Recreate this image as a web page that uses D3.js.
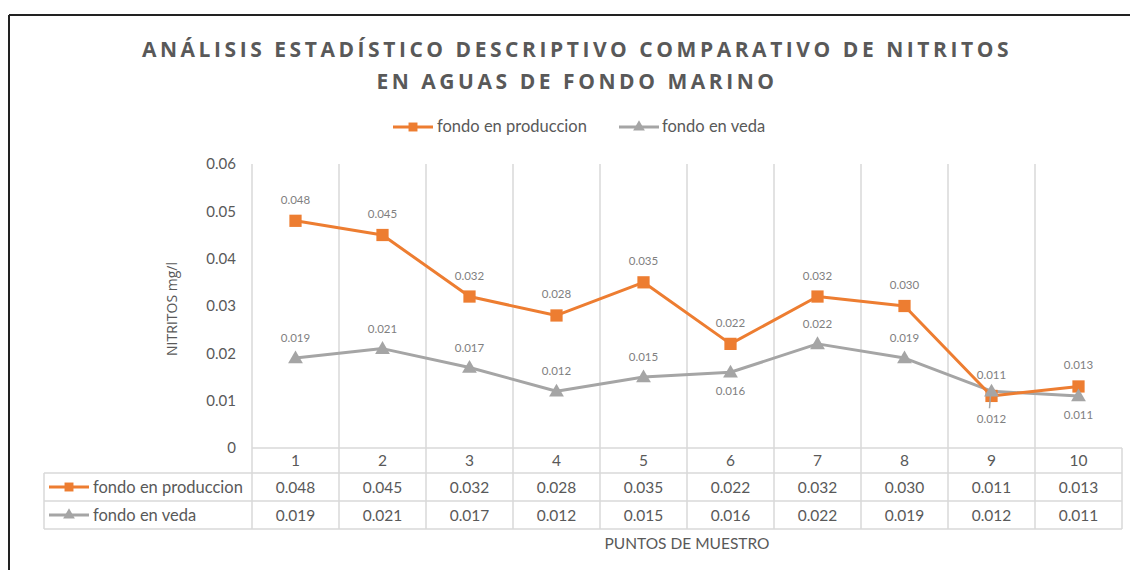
<!DOCTYPE html>
<html>
<head>
<meta charset="utf-8">
<script src="https://cdn.jsdelivr.net/npm/d3@7"></script>
<style>
  html, body { margin: 0; padding: 0; background: #fff; }
  svg { display: block; }
  text { font-family: Lato, "Open Sans", sans-serif; }
</style>
</head>
<body>
<svg id="chart" width="1130" height="570"></svg>
<script>
// Sampling points and nitrite readings (mg/l)
const categories = ["1", "2", "3", "4", "5", "6", "7", "8", "9", "10"];
const produccion = [0.048, 0.045, 0.032, 0.028, 0.035, 0.022, 0.032, 0.030, 0.011, 0.013];
const veda = [0.019, 0.021, 0.017, 0.012, 0.015, 0.016, 0.022, 0.019, 0.012, 0.011];
const yTicks = [0, 0.01, 0.02, 0.03, 0.04, 0.05, 0.06];
const seriesNames = ["fondo en produccion", "fondo en veda"];
// Label placement per point for the "veda" series: above or below the marker
const vedaLabelPos = ["t", "t", "t", "t", "t", "b", "t", "t", "b", "b"];

const titleLines = ["ANÁLISIS ESTADÍSTICO DESCRIPTIVO COMPARATIVO DE NITRITOS", "EN AGUAS DE FONDO MARINO"];
const yTitle = "NITRITOS mg/l";
const xTitle = "PUNTOS DE MUESTRO";

const C_ORANGE = "#ED7D31", C_GRAY = "#A5A5A5", C_TEXT = "#595959", C_GRID = "#D9D9D9";

const svg = d3.select("#chart");

// outer frame (top and left edges)
svg.append("line").attr("x1", 9).attr("x2", 1130).attr("y1", 15).attr("y2", 15)
  .attr("stroke", "#222").attr("stroke-width", 2);
svg.append("line").attr("x1", 9).attr("x2", 9).attr("y1", 15).attr("y2", 570)
  .attr("stroke", "#222").attr("stroke-width", 2);

// title
svg.append("g").selectAll("text").data(titleLines).join("text")
  .attr("x", 577).attr("y", (d, i) => 57 + i * 32)
  .attr("text-anchor", "middle")
  .attr("fill", C_TEXT)
  .style("font-family", "'Open Sans', sans-serif")
  .style("font-weight", 700)
  .style("font-size", "21px")
  .style("letter-spacing", "3.55px")
  .text(d => d);

// plot geometry
const plotLeft = 252, plotRight = 1122, plotTop = 164, plotBottom = 448;
const x = d3.scaleBand().domain(categories).range([plotLeft, plotRight]);
const y = d3.scaleLinear().domain([0, 0.06]).range([plotBottom, plotTop]);
const cx = c => x(c) + x.bandwidth() / 2;

// table rows
const rowCat = [448, 473], rowA = [473, 501], rowB = [501, 529];
const tableLeft = 44;

// vertical gridlines (plot + table columns)
const bounds = categories.map(c => x(c)).concat([plotRight]);
svg.append("g").selectAll("line").data(bounds).join("line")
  .attr("x1", d => d).attr("x2", d => d)
  .attr("y1", (d, i) => i === bounds.length - 1 ? rowCat[0] : plotTop)
  .attr("y2", rowB[1])
  .attr("stroke", C_GRID).attr("stroke-width", 1.5);

// horizontal table lines
const hl = svg.append("g").attr("stroke", C_GRID).attr("stroke-width", 1.5);
hl.append("line").attr("x1", plotLeft).attr("x2", plotRight).attr("y1", rowCat[0]).attr("y2", rowCat[0]);
[rowA[0], rowB[0], rowB[1]].forEach(yy =>
  hl.append("line").attr("x1", tableLeft).attr("x2", plotRight).attr("y1", yy).attr("y2", yy));
hl.append("line").attr("x1", tableLeft).attr("x2", tableLeft).attr("y1", rowA[0]).attr("y2", rowB[1]);

// y axis labels
const yAxis = d3.axisLeft(y).tickValues(yTicks).tickSize(0).tickPadding(0)
  .tickFormat(d => d === 0 ? "0" : d3.format(".2f")(d));
const yg = svg.append("g").attr("transform", `translate(236,0)`).call(yAxis);
yg.select(".domain").remove();
yg.selectAll("text").attr("fill", C_TEXT).style("font-size", "15px")
  .style("font-family", "Lato, sans-serif");

// y title
svg.append("text").attr("transform", `translate(177,${(plotTop + plotBottom) / 2 + 3}) rotate(-90)`)
  .attr("text-anchor", "middle").attr("fill", C_TEXT)
  .style("font-family", "'Open Sans', sans-serif").style("font-size", "14px").text(yTitle);

// category row
svg.append("g").selectAll("text").data(categories).join("text")
  .attr("x", d => cx(d)).attr("y", 466).attr("text-anchor", "middle")
  .attr("fill", C_TEXT).style("font-size", "15.5px").text(d => d);

// series rows in the data table
const fmt = d3.format(".3f");
[[produccion, rowA], [veda, rowB]].forEach(([vals, row]) => {
  svg.append("g").selectAll("text").data(vals).join("text")
    .attr("x", (d, i) => cx(categories[i])).attr("y", row[0] + 20)
    .attr("text-anchor", "middle").attr("fill", C_TEXT).style("font-size", "15.5px")
    .text(d => fmt(d));
});

// marker symbols
const sq = d3.symbol().type(d3.symbolSquare).size(150);
const tri = d3.symbol().type(d3.symbolTriangle).size(95);

function legendKey(g, x0, yy, color, sym) {
  g.append("line").attr("x1", x0).attr("x2", x0 + 40).attr("y1", yy).attr("y2", yy)
    .attr("stroke", color).attr("stroke-width", 3);
  g.append("path").attr("d", sym).attr("fill", color)
    .attr("transform", `translate(${x0 + 20},${yy})`);
}
const smallSq = d3.symbol().type(d3.symbolSquare).size(80)();
const smallTri = d3.symbol().type(d3.symbolTriangle).size(60)();

// table row keys
const tk = svg.append("g");
legendKey(tk, 49, (rowA[0] + rowA[1]) / 2, C_ORANGE, smallSq);
legendKey(tk, 49, (rowB[0] + rowB[1]) / 2, C_GRAY, smallTri);
tk.append("text").attr("x", 93).attr("y", rowA[0] + 20).attr("fill", C_TEXT).style("font-size", "16.5px").text(seriesNames[0]);
tk.append("text").attr("x", 93).attr("y", rowB[0] + 20).attr("fill", C_TEXT).style("font-size", "16.5px").text(seriesNames[1]);

// top legend
const lg = svg.append("g");
legendKey(lg, 393, 127, C_ORANGE, smallSq);
lg.append("text").attr("x", 437).attr("y", 132).attr("fill", C_TEXT).style("font-size", "16.5px").text(seriesNames[0]);
legendKey(lg, 619, 127, C_GRAY, smallTri);
lg.append("text").attr("x", 662).attr("y", 132).attr("fill", C_TEXT).style("font-size", "16.5px").text(seriesNames[1]);

// lines
const line = d3.line().x((d, i) => cx(categories[i])).y(d => y(d));
svg.append("path").datum(veda).attr("d", line).attr("fill", "none")
  .attr("stroke", C_GRAY).attr("stroke-width", 3).attr("stroke-linejoin", "round");
svg.append("path").datum(produccion).attr("d", line).attr("fill", "none")
  .attr("stroke", C_ORANGE).attr("stroke-width", 3).attr("stroke-linejoin", "round");

// markers
svg.append("g").selectAll("path").data(produccion).join("path")
  .attr("d", sq()).attr("fill", C_ORANGE)
  .attr("transform", (d, i) => `translate(${cx(categories[i])},${y(d)})`);
svg.append("g").selectAll("path").data(veda).join("path")
  .attr("d", tri()).attr("fill", C_GRAY)
  .attr("transform", (d, i) => `translate(${cx(categories[i])},${y(d) + 1})`);

// leader line for the label pushed below at point 9
const i9 = 8;
svg.append("line").attr("x1", cx(categories[i9]) - 1).attr("x2", cx(categories[i9]) - 2)
  .attr("y1", y(veda[i9]) + 4).attr("y2", y(veda[i9]) + 17)
  .attr("stroke", C_GRAY).attr("stroke-width", 1.5);

// data labels
const lbl = svg.append("g").attr("fill", "#7F7F7F").style("font-size", "11.5px").attr("text-anchor", "middle");
produccion.forEach((v, i) => {
  lbl.append("text").attr("x", cx(categories[i])).attr("y", y(v) - 17).text(fmt(v));
});
veda.forEach((v, i) => {
  const below = vedaLabelPos[i] === "b";
  const dy = below ? (i === i9 ? 32 : 23) : -16;
  lbl.append("text").attr("x", cx(categories[i])).attr("y", y(v) + dy).text(fmt(v));
});

// x title
svg.append("text").attr("x", 687).attr("y", 549).attr("text-anchor", "middle")
  .attr("fill", C_TEXT).style("font-size", "15.5px").text(xTitle);
</script>
</body>
</html>
